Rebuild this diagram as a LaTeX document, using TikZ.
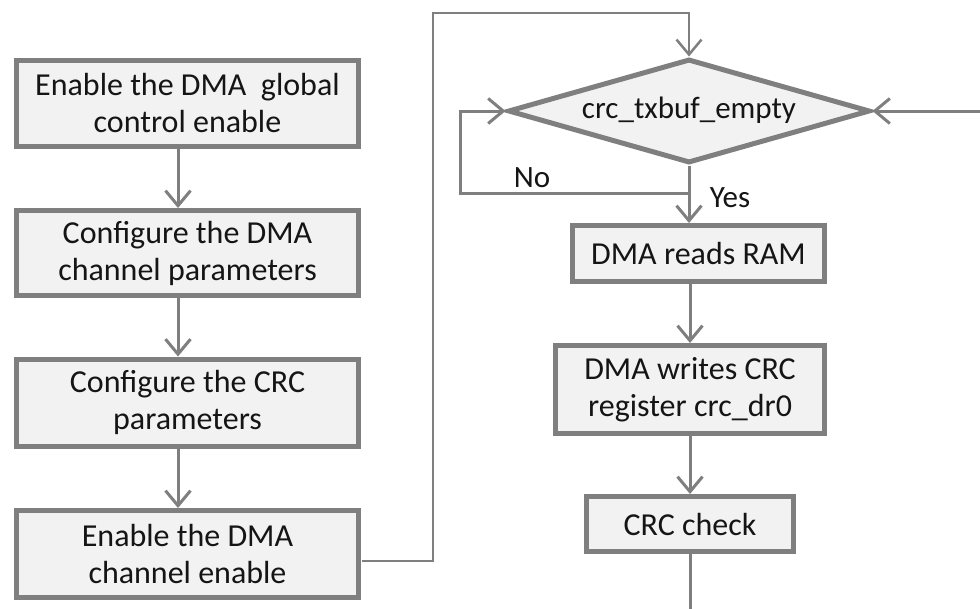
\documentclass[tikz,border=0pt]{standalone}
\usepackage{fontspec}
\setmainfont{Carlito}
\usetikzlibrary{arrows.meta,shapes.geometric,calc}
\definecolor{bordgray}{HTML}{7F7F7F}
\definecolor{boxfill}{HTML}{F2F2F2}
\definecolor{txt}{HTML}{151515}
\begin{document}
\begin{tikzpicture}[x=1pt,y=-1pt,
  stepbox/.style={draw=bordgray, line width=5pt, fill=boxfill, rectangle, inner sep=0pt,
    align=center, text=txt, font=\fontsize{32}{37}\selectfont},
  decbox/.style={draw=bordgray, line width=5pt, fill=boxfill, diamond, aspect=3.4, inner sep=0pt,
    text=txt, font=\fontsize{31}{37}\selectfont},
  lbl/.style={text=txt, font=\fontsize{31}{37}\selectfont, inner sep=0pt},
  flow/.style={draw=bordgray, line width=3pt, -{Straight Barb[length=15pt,width=25pt]}},
  thinflow/.style={draw=bordgray, line width=2.5pt, -{Straight Barb[length=15pt,width=25pt]}},
  plain/.style={draw=bordgray, line width=3pt}]
\useasboundingbox (0,0) rectangle (980,608);
\fill[white] (0,0) rectangle (980,608);

% left column
\node[stepbox, minimum width=342pt, minimum height=86pt] (b1) at (187.5,103.5) {Enable the DMA\ \ global\\control enable};
\node[stepbox, minimum width=342pt, minimum height=85pt] (b2) at (187.5,253) {Configure the DMA\\channel parameters};
\node[stepbox, minimum width=342pt, minimum height=87pt] (b3) at (187.5,402.5) {Configure the CRC\\parameters};
\node[stepbox, minimum width=342pt, minimum height=87pt] (b4) at (187.5,554) {Enable the DMA\\channel enable};

% right column
\node[decbox, minimum width=362pt, minimum height=104pt] (d) at (689,111) {\raisebox{6pt}{crc\_txbuf\_empty}};
\node[stepbox, minimum width=252pt, minimum height=56pt] (b5) at (698.5,253.5) {DMA reads RAM};
\node[stepbox, minimum width=269pt, minimum height=88pt] (b6) at (690,389.5) {DMA writes CRC\\register crc\_dr0};
\node[stepbox, minimum width=207pt, minimum height=55pt] (b7) at (690,524) {CRC check};

\node[lbl] (no) at (532,178) {No};
\node[lbl] (yes) at (730,198) {Yes};

% helper coordinates
\coordinate (ax) at (178,0);
\coordinate (rx) at (690,0);
\coordinate (t0) at (362,561);
\coordinate (t1) at (433,561);
\coordinate (t2) at (433,13);
\coordinate (t3) at (689,13);
\coordinate (n0) at (689,193);
\coordinate (n1) at (460,193);
\coordinate (n2) at (460,111);
\coordinate (bot) at (690,612);
\coordinate (rin) at (984,111);

% left arrows
\draw[flow] (b1.south -| ax) -- (b2.north -| ax);
\draw[flow] (b2.south -| ax) -- (b3.north -| ax);
\draw[flow] (b3.south -| ax) -- (b4.north -| ax);

% to the decision
\draw[thinflow] (t0) -- (t1) -- (t2) -- (t3) -- (d.north);

% no loop
\draw[flow] (n0) -- (n1) -- (n2) -- (d.west);

% yes and down
\draw[flow] (d.south) -- (d.south |- b5.north);
\draw[flow] (b5.south -| rx) -- (b6.north -| rx);
\draw[flow] (b6.south -| rx) -- (b7.north -| rx);
\draw[plain] (b7.south -| rx) -- (bot);

% return from the right
\draw[flow] (rin) -- (d.east);
\end{tikzpicture}
\end{document}
